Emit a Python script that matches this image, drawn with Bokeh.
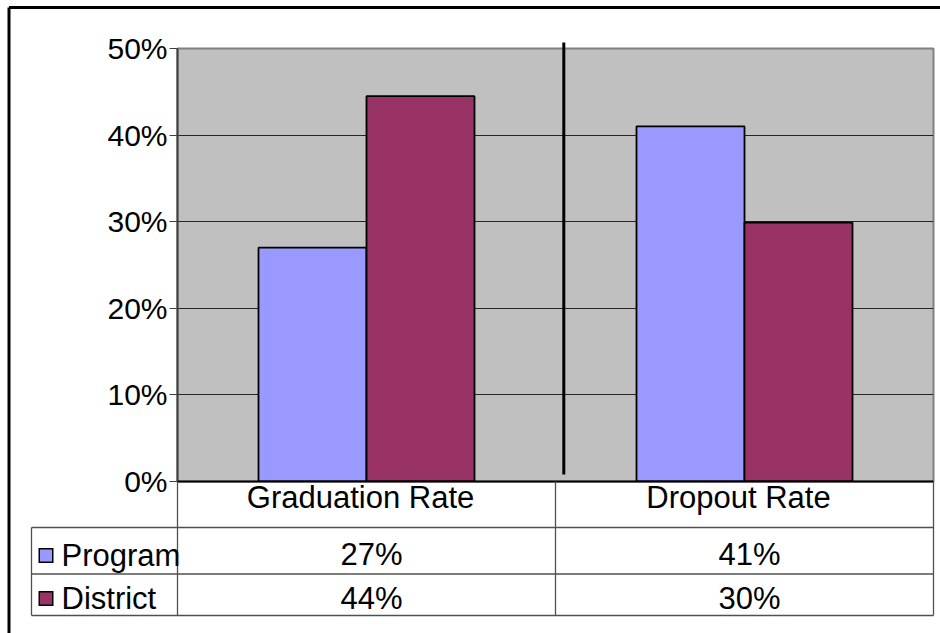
from bokeh.plotting import figure
from bokeh.models import Range1d, FixedTicker
from bokeh.core.properties import value
from bokeh.embed import file_html
from bokeh.resources import INLINE

# ---------------- data ----------------
categories = ["Graduation Rate", "Dropout Rate"]
series = ["Program", "District"]
program = [27.0, 41.0]
district = [44.5, 29.9]
program_labels = ["27%", "41%"]
district_labels = ["44%", "30%"]
y_ticks = [0, 10, 20, 30, 40, 50]
y_tick_labels = ["0%", "10%", "20%", "30%", "40%", "50%"]
colors = ["#9999FF", "#993366"]

# ---------------- layout ----------------
W, H = 940, 633
L, R, T, B = 177, 7, 48, 152
FW = W - L - R
FH = H - T - B
YMAX = 50.0
NCAT = len(categories)

def px(x):
    return (x - L) / FW * NCAT

def py(y):
    return (T + FH - y) / FH * YMAX

FONT = value("Liberation Sans")
FS = value("31px")

p = figure(width=W, height=H, x_range=Range1d(0, NCAT), y_range=Range1d(0, YMAX),
           output_backend="svg", toolbar_location=None, x_axis_location=None,
           min_border_left=L, min_border_right=R, min_border_top=T, min_border_bottom=B,
           background_fill_color="#C0C0C0", border_fill_color="white",
           outline_line_color="#808080", outline_line_width=2)

# y axis
p.yaxis.ticker = FixedTicker(ticks=y_ticks)
p.yaxis.major_label_overrides = {t: l for t, l in zip(y_ticks, y_tick_labels)}
p.yaxis.axis_line_color = "#404040"
p.yaxis.axis_line_width = 2
p.yaxis.major_tick_line_color = "#404040"
p.yaxis.major_tick_line_width = 1
p.yaxis.major_tick_out = 8
p.yaxis.major_tick_in = 0
p.yaxis.minor_tick_out = 0
p.yaxis.minor_tick_in = 0
p.yaxis.major_label_standoff = 2
p.yaxis.major_label_text_font = "Liberation Sans"
p.yaxis.major_label_text_font_size = "30px"
p.yaxis.major_label_text_color = "black"

p.xgrid.visible = False
p.ygrid.ticker = FixedTicker(ticks=y_ticks[1:-1])
p.ygrid.grid_line_color = "#262626"
p.ygrid.grid_line_width = 1

# bars
centers = [i + 0.5 for i in range(NCAT)]
bar_w = 1 / 3.5
p.vbar(x=[c - bar_w / 2 for c in centers], top=program, width=bar_w, bottom=0,
       fill_color=colors[0], line_color="black", line_width=1.8)
p.vbar(x=[c + bar_w / 2 for c in centers], top=district, width=bar_w, bottom=0,
       fill_color=colors[1], line_color="black", line_width=1.8)

# category axis line at 0%
p.segment(x0=[0], y0=[0], x1=[NCAT], y1=[0], line_color="black", line_width=2, level="overlay")

# stray vertical separator line
p.segment(x0=[px(563.3)], y0=[py(42)], x1=[px(563.3)], y1=[py(474)],
          line_color="black", line_width=3, level="overlay")

# ---------------- data table ----------------
tbl_left = px(31)
row_lines = [py(527), py(573.5), py(615)]
tbl_bottom = py(615)
tcol = "#505050"
p.segment(x0=[tbl_left] * 3, y0=row_lines, x1=[NCAT] * 3, y1=row_lines,
          line_color=tcol, line_width=1.3, level="overlay")
bounds = list(range(NCAT + 1))
p.segment(x0=bounds, y0=[0] * len(bounds), x1=bounds, y1=[tbl_bottom] * len(bounds),
          line_color=tcol, line_width=1.3, level="overlay")
p.segment(x0=[tbl_left], y0=[py(527)], x1=[tbl_left], y1=[tbl_bottom],
          line_color=tcol, line_width=1.3, level="overlay")

# header texts
p.text(x=centers, y=[py(497)] * NCAT, text=categories, text_font=FONT, text_font_size=FS,
       x_offset=-6, text_align="center", text_baseline="middle", text_color="black", level="overlay")
# value rows
p.text(x=centers, y=[py(554)] * NCAT, text=program_labels, text_font=FONT, text_font_size=FS,
       x_offset=5, text_align="center", text_baseline="middle", text_color="black", level="overlay")
p.text(x=centers, y=[py(598)] * NCAT, text=district_labels, text_font=FONT, text_font_size=FS,
       x_offset=5, text_align="center", text_baseline="middle", text_color="black", level="overlay")

# legend keys (bordered squares) + series names
row_y = [py(555), py(598)]
p.segment(x0=[px(38)] * 2, y0=row_y, x1=[px(53)] * 2, y1=row_y,
          line_color="black", line_width=15, line_cap="butt", level="overlay")
p.segment(x0=[px(39.5)] * 2, y0=row_y, x1=[px(51.5)] * 2, y1=row_y,
          line_color=colors, line_width=12, line_cap="butt", level="overlay")
p.text(x=[px(61)] * 2, y=row_y, text=series, text_font=FONT, text_font_size=FS,
       text_align="left", text_baseline="middle", text_color="black", level="overlay")

# outer chart border
p.segment(x0=[px(8.5), px(8.5)], y0=[py(7), py(7)], x1=[px(8.5), px(945)], y1=[py(640), py(7)],
          line_color="black", line_width=3, level="overlay")

open("out.html", "w").write(file_html(p, INLINE))
